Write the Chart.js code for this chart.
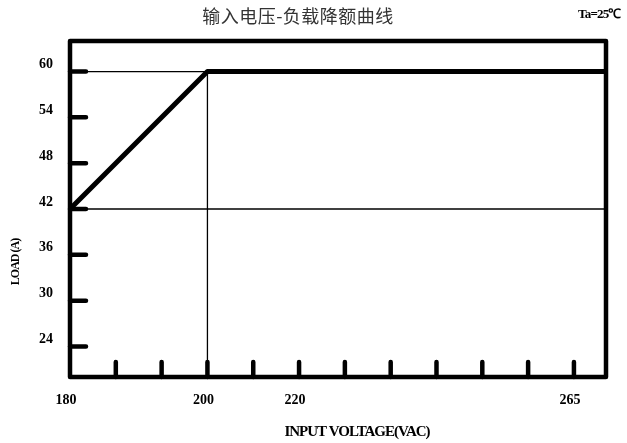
<!DOCTYPE html>
<html>
<head>
<meta charset="utf-8">
<script src="https://cdn.jsdelivr.net/npm/chart.js@4.4.0/dist/chart.umd.min.js"></script>
<style>
    html, body { margin: 0; padding: 0; background: #fff; }
    #wrap { width: 627px; height: 443px; }
</style>
</head>
<body>
<div id="wrap"><canvas id="derating" width="627" height="443"></canvas></div>
<script>
(function () {
    'use strict';

    var titleText = '输入电压-负载降额曲线';
    var ambientText = 'Ta=25℃';
    var xAxisTitle = 'INPUT VOLTAGE(VAC)';
    var yAxisTitle = 'LOAD (A)';

    // x axis is schematic: values are tick steps, labels are volts
    var xTickLabels = ['180', '', '', '200', '', '220', '', '', '', '', '', '265'];
    var xMax = 11.7;
    var yTicks = [24, 30, 36, 42, 48, 54, 60];
    var yMin = 20;
    var yMax = 64;

    // derating curve
    var curveX = [0, 3, 11.7];
    var curveLoad = [42, 60, 60];

    // thin reference lines
    var lowLineX = [0, 11.7];
    var lowLineY = [42, 42];
    var topLineX = [0, 3];
    var topLineY = [60, 60];
    var kneeLineX = [3, 3];
    var kneeLineY = [60, 20];

    function pts(xs, ys) {
        return xs.map(function (x, i) { return { x: x, y: ys[i] }; });
    }

    function thin(xs, ys) {
        return {
            data: pts(xs, ys),
            borderColor: '#000',
            borderWidth: 1.3,
            pointRadius: 0,
            fill: false
        };
    }

    var serif = '"Liberation Serif", "Times New Roman", serif';

    var decor = {
        id: 'decor',
        afterDatasetsDraw: function (chart) {
            var ctx = chart.ctx;
            var a = chart.chartArea;
            var xs = chart.scales.x;
            var ys = chart.scales.y;
            ctx.save();
            ctx.strokeStyle = '#000';
            ctx.lineWidth = 4.5;
            ctx.lineJoin = 'round';
            ctx.lineCap = 'round';
            ctx.strokeRect(a.left, a.top, a.right - a.left, a.bottom - a.top);

            ctx.beginPath();
            yTicks.forEach(function (v) {
                var y = ys.getPixelForValue(v);
                ctx.moveTo(a.left, y);
                ctx.lineTo(a.left + 16, y);
            });
            for (var i = 1; i < xTickLabels.length; i++) {
                var x = xs.getPixelForValue(i);
                ctx.moveTo(x, a.bottom);
                ctx.lineTo(x, a.bottom - 15);
            }
            ctx.stroke();

            ctx.textBaseline = 'middle';
            ctx.textAlign = 'center';
            ctx.fillStyle = '#333';
            ctx.font = '18px "Noto Sans CJK SC", sans-serif';
            ctx.letterSpacing = '0.5px';
            ctx.fillText(titleText, 298, 16);

            ctx.fillStyle = '#000';
            ctx.letterSpacing = '-0.8px';
            ctx.font = 'bold 13px ' + serif;
            ctx.textAlign = 'left';
            ctx.fillText(ambientText, 578, 15);

            ctx.textAlign = 'center';
            ctx.letterSpacing = '-1px';
            ctx.font = 'bold 15px ' + serif;
            ctx.fillText(xAxisTitle, 357, 432);

            ctx.translate(16, 262);
            ctx.rotate(-Math.PI / 2);
            ctx.font = 'bold 12px ' + serif;
            ctx.fillText(yAxisTitle, 0, 0);
            ctx.restore();
        }
    };

    new Chart(document.getElementById('derating'), {
        type: 'line',
        data: {
            datasets: [
                thin(lowLineX, lowLineY),
                thin(topLineX, topLineY),
                thin(kneeLineX, kneeLineY),
                {
                    data: pts(curveX, curveLoad),
                    borderColor: '#000',
                    borderWidth: 5,
                    pointRadius: 0,
                    fill: false,
                    borderJoinStyle: 'round',
                    borderCapStyle: 'round'
                }
            ]
        },
        options: {
            responsive: false,
            animation: false,
            devicePixelRatio: 1,
            layout: { padding: { left: 0, right: 21, top: 41, bottom: 0 } },
            plugins: {
                legend: { display: false },
                tooltip: { enabled: false },
                title: { display: false }
            },
            scales: {
                x: {
                    type: 'linear',
                    min: 0,
                    max: xMax,
                    grid: { display: false, drawTicks: false },
                    border: { display: false },
                    afterBuildTicks: function (scale) {
                        scale.ticks = xTickLabels.map(function (l, i) { return { value: i }; });
                    },
                    afterFit: function (scale) { scale.height = 66; },
                    ticks: {
                        autoSkip: false,
                        maxRotation: 0,
                        padding: 15,
                        labelOffset: -4,
                        color: '#000',
                        font: { family: serif, size: 14, weight: 'bold' },
                        callback: function (v, i) { return xTickLabels[i]; }
                    }
                },
                y: {
                    min: yMin,
                    max: yMax,
                    grid: { display: false, drawTicks: false },
                    border: { display: false },
                    afterBuildTicks: function (scale) {
                        scale.ticks = yTicks.map(function (v) { return { value: v }; });
                    },
                    afterFit: function (scale) { scale.width = 70; },
                    ticks: {
                        padding: 17,
                        labelOffset: -7,
                        color: '#000',
                        font: { family: serif, size: 14, weight: 'bold' },
                        callback: function (v) { return String(v); }
                    }
                }
            }
        },
        plugins: [decor]
    });
})();
</script>
</body>
</html>
